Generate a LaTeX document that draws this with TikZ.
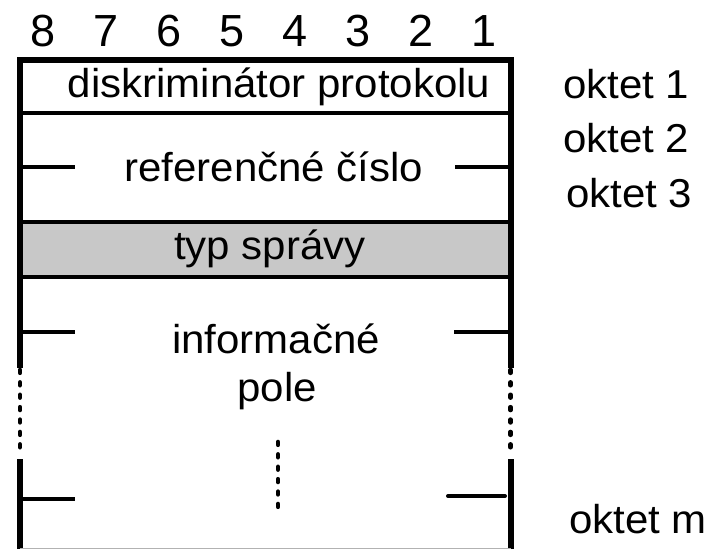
\documentclass[tikz,border=0pt]{standalone}
\usepackage{fontspec}
\setmainfont{Liberation Sans}
\definecolor{rowgray}{HTML}{C8C8C8}
\newcommand{\sq}[1]{\scalebox{1}[0.96]{#1}}
\begin{document}
\begin{tikzpicture}[x=1pt,y=-1pt,
  txt/.style={inner sep=0pt,font=\fontsize{42}{48}\selectfont},
  digit/.style={inner sep=0pt,font=\fontsize{45}{50}\selectfont},
  frame/.style={line width=6pt},
  sep/.style={line width=4pt},
  tick/.style={line width=4pt},
  dots/.style={line width=4.6pt,line cap=round,dash pattern=on 2.8pt off 9.6pt}]
\useasboundingbox (0,0) rectangle (707,549);
% bit numbers
\foreach \d [count=\i from 0] in {8,7,6,5,4,3,2,1}
  \node[digit,anchor=base] (b\d) at (43+63*\i,46) {\d};
% gray row
\fill[rowgray] (20,222) rectangle (510.5,277);
% frame
\coordinate (tl) at (20,60);
\coordinate (tr) at (510.5,60);
\coordinate (l1) at (20,368);
\coordinate (l2) at (20,455);
\coordinate (l3) at (20,459);
\coordinate (lb) at (20,549);
\coordinate (r1) at (510.5,368);
\coordinate (r2) at (510.5,455);
\coordinate (r3) at (510.5,459);
\coordinate (rb) at (510.5,549);
\draw[frame] (l1) -- (tl) -- (tr) -- (r1);
\draw[frame] (l3) -- (lb);
\draw[frame] (r3) -- (rb);
\draw[dots] (20,370) -- (l2);
\draw[dots] (510.5,370) -- (r2);
\draw[gray!60,line width=1pt] (20,548.5) -- (510.5,548.5);
% separators
\coordinate (s1l) at (20,113); \coordinate (s1r) at (510.5,113);
\coordinate (s2l) at (20,222); \coordinate (s2r) at (510.5,222);
\coordinate (s3l) at (20,277); \coordinate (s3r) at (510.5,277);
\draw[sep] (s1l) -- (s1r);
\draw[sep] (s2l) -- (s2r);
\draw[sep] (s3l) -- (s3r);
% ticks
\coordinate (t1a) at (20,167); \coordinate (t1b) at (75,167);
\coordinate (t2a) at (455,167); \coordinate (t2b) at (510.5,167);
\coordinate (t3a) at (20,332); \coordinate (t3b) at (75,332);
\coordinate (t4a) at (454,332); \coordinate (t4b) at (510.5,332);
\coordinate (t5a) at (20,499); \coordinate (t5b) at (75,499);
\coordinate (t6a) at (448,496); \coordinate (t6b) at (505,496);
\draw[tick] (t1a) -- (t1b);
\draw[tick] (t2a) -- (t2b);
\draw[tick] (t3a) -- (t3b);
\draw[tick] (t4a) -- (t4b);
\draw[tick] (t5a) -- (t5b);
\draw[tick,line cap=round] (t6a) -- (t6b);
% centre dots
\draw[dots] (278,442) -- (278,510);
% texts
\node[txt,anchor=base] (dp) at (279,97) {\sq{diskriminátor protokolu}};
\node[txt,anchor=base] (rc) at (274,181) {\sq{referenčné číslo}};
\node[txt,anchor=base] (ts) at (270,259) {\sq{typ správy}};
\node[txt,anchor=base] (ip1) at (276,353) {\sq{informačné}};
\node[txt,anchor=base] (ip2) at (277,401) {\sq{pole}};
\node[txt,anchor=base west] (o1) at (563,98) {\sq{oktet 1}};
\node[txt,anchor=base west] (o2) at (563,152) {\sq{oktet 2}};
\node[txt,anchor=base west] (o3) at (566,207) {\sq{oktet 3}};
\node[txt,anchor=base west] (om) at (569,533) {\sq{oktet m}};
\end{tikzpicture}
\end{document}
